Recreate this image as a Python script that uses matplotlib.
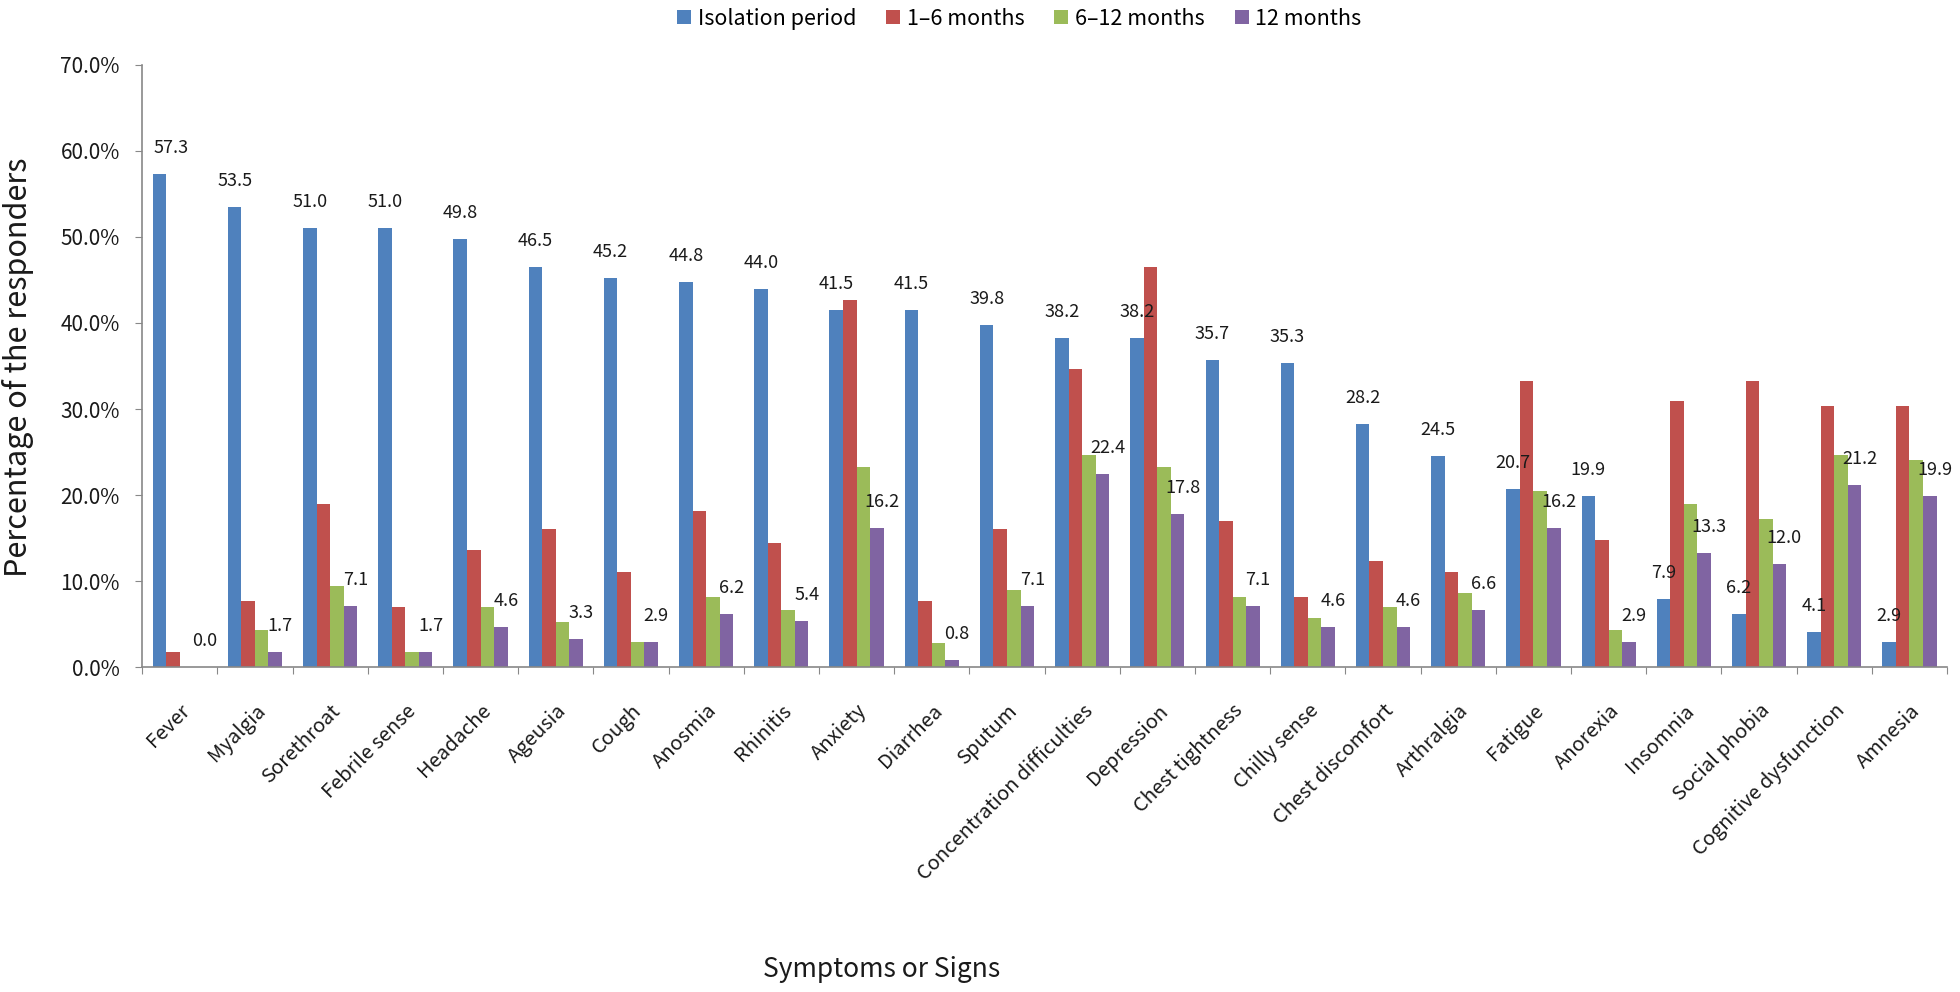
import numpy as np
import matplotlib
matplotlib.use("Agg")
import matplotlib.pyplot as plt
from matplotlib.ticker import FuncFormatter

plt.rcParams['font.family'] = ['Noto Sans CJK KR', 'DejaVu Sans']

# Data (% of responders)
symptoms = ['Fever', 'Myalgia', 'Sorethroat', 'Febrile sense', 'Headache', 'Ageusia',
            'Cough', 'Anosmia', 'Rhinitis', 'Anxiety', 'Diarrhea', 'Sputum',
            'Concentration difficulties', 'Depression', 'Chest tightness', 'Chilly sense',
            'Chest discomfort', 'Arthralgia', 'Fatigue', 'Anorexia', 'Insomnia',
            'Social phobia', 'Cognitive dysfunction', 'Amnesia']
isolation = [57.3, 53.5, 51.0, 51.0, 49.8, 46.5, 45.2, 44.8, 44.0, 41.5, 41.5, 39.8,
             38.2, 38.2, 35.7, 35.3, 28.2, 24.5, 20.7, 19.9, 7.9, 6.2, 4.1, 2.9]
m1_6 = [1.7, 7.7, 19.0, 7.0, 13.6, 16.1, 11.0, 18.1, 14.4, 42.7, 7.7, 16.1,
        34.7, 46.5, 17.0, 8.1, 12.3, 11.0, 33.2, 14.8, 30.9, 33.2, 30.3, 30.3]
m6_12 = [0.0, 4.3, 9.4, 1.7, 7.0, 5.2, 2.9, 8.1, 6.6, 23.2, 2.8, 9.0,
         24.7, 23.2, 8.1, 5.7, 7.0, 8.6, 20.5, 4.3, 19.0, 17.2, 24.7, 24.1]
m12 = [0.0, 1.7, 7.1, 1.7, 4.6, 3.3, 2.9, 6.2, 5.4, 16.2, 0.8, 7.1,
       22.4, 17.8, 7.1, 4.6, 4.6, 6.6, 16.2, 2.9, 13.3, 12.0, 21.2, 19.9]

series = [('Isolation period', isolation, '#4F81BD'),
          ('1\u20136 months', m1_6, '#C0504D'),
          ('6\u201312 months', m6_12, '#9BBB59'),
          ('12 months', m12, '#8064A2')]

fig = plt.figure(figsize=(19.6, 9.92), dpi=100)
ax = fig.add_axes([0.0725, 0.3276, 0.9209, 0.6069])

x = np.arange(len(symptoms))
w = 0.18
handles = []
for i, (name, vals, color) in enumerate(series):
    bars = ax.bar(x + (i - 1.5) * w, vals, width=w, color=color, label=name)
    handles.append(bars)

# value labels on first and last series only
for i, (bar, v) in enumerate(zip(handles[0], isolation)):
    xoff = 12 if i == 0 else 0   # first label nudged off the axis
    ax.annotate(f'{v:.1f}', (bar.get_x() + bar.get_width() / 2, v),
                xytext=(xoff, 26), textcoords='offset pixels',
                ha='center', va='center', fontsize=13, color='#1a1a1a')
for bar, v in zip(handles[3], m12):
    ax.annotate(f'{v:.1f}', (bar.get_x() + bar.get_width() / 2, v),
                xytext=(5, 26), textcoords='offset pixels',
                ha='center', va='center', fontsize=13, color='#1a1a1a')

ax.set_xlim(-0.5, len(symptoms) - 0.5)
ax.set_ylim(0, 70)
ax.set_yticks(np.arange(0, 71, 10))
ax.yaxis.set_major_formatter(FuncFormatter(lambda v, p: f'{v:.1f}%'))

# category ticks sit between groups
ax.set_xticks(np.arange(-0.5, len(symptoms) + 0.5, 1))
ax.set_xticklabels([])
ax.set_xticks(x, minor=True)
ax.set_xticklabels(symptoms, minor=True, rotation=45, ha='right',
                   rotation_mode='anchor', fontsize=14.5, color='#1a1a1a')
ax.tick_params(axis='x', which='minor', length=0, pad=24)
ax.tick_params(axis='x', which='major', length=5, color='#888888', direction='out')
ax.tick_params(axis='y', length=5, color='#888888', labelsize=15, pad=11, labelcolor='#1a1a1a')

for s in ['top', 'right']:
    ax.spines[s].set_visible(False)
for s in ['left', 'bottom']:
    ax.spines[s].set_color('#888888')
    ax.spines[s].set_linewidth(1.2)

fig.text(0.009, 0.63, 'Percentage of the responders', fontsize=22, rotation=90,
         ha='center', va='center', color='#1a1a1a')
fig.text(0.45, 0.023, 'Symptoms or Signs', fontsize=19, ha='center', va='center',
         color='#1a1a1a')

fig.legend(handles=handles, loc='center', bbox_to_anchor=(0.52, 0.981), ncol=4,
           frameon=False, fontsize=15.5, handlelength=0.65, handleheight=0.65,
           handletextpad=0.3, columnspacing=1.4)

fig.savefig('out.png', dpi=100)
